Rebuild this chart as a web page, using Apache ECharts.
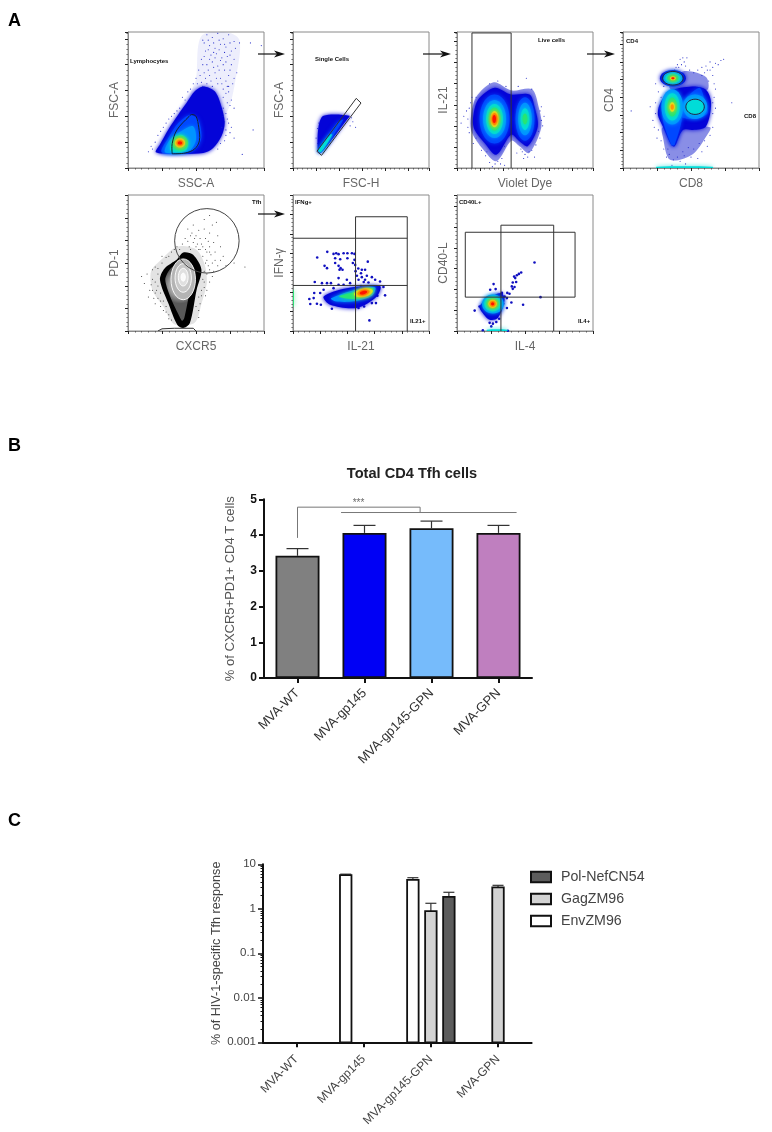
<!DOCTYPE html>
<html><head><meta charset="utf-8">
<style>html,body{margin:0;padding:0;background:#fff}#c{width:772px;height:1132px}</style>
<script src="https://cdn.jsdelivr.net/npm/echarts@6/dist/echarts.min.js"></script>
</head><body><div id="c"></div>
<script>
// ---------- Panel B values ----------
const groups = ['MVA-WT','MVA-gp145','MVA-gp145-GPN','MVA-GPN'];
const totalTfh = [3.42,4.06,4.19,4.06];
const totalTfhUpper = [3.62,4.27,4.39,4.27];
const totalColors = ['#808080','#0000f5','#76bbfb','#bf7fbf'];
const bracketA = [[0.5,3.92],[0.5,4.78],[2.33,4.78],[2.33,4.63]];
const bracketB = [[1.15,4.63],[3.77,4.63]];
const starMark = [[1.41,4.9]];
// ---------- Panel C values ----------
const polNef = [null,null,1.85,null];
const gagZM = [null,null,0.89,3.04];
const envZM = [null,5.7,4.45,null];
const polNefUpper = [null,null,2.35,null];
const gagZMUpper = [null,null,1.33,3.37];
const envZMUpper = [null,6.0,5.0,null];
const logTicks = {10:'10',1:'1',0.1:'0.1',0.01:'0.01',0.001:'0.001'};
// ---------- Flow panels: density zones (percent of each plot) ----------
const lymphZones = [
 ['p',0,[[45.5,51],[50,65],[54,97],[73.6,99.7],[82,94],[80,70],[72,40],[60,45]]],
 ['p',1,[[20.5,11.5],[23.5,17.2],[29.6,28.2],[36.9,39.2],[43,47.8],[49.1,56.4],[55.3,60],[63.8,56.4],[68.7,45.3],[71.1,33.1],[68.7,23.3],[62.6,14.7],[55.3,11],[33.3,10.3]]],
 ['p',2,[[24.7,11.5],[29.6,22],[37,33],[45.5,39],[51.6,35.5],[54,23],[50.4,14.7],[40.6,11]]],
 ['p',3,[[27,12],[31,21],[40.6,28],[48,30.6],[50,21],[45.5,13],[33,11]]],
 ['p',4,[[31,13],[33,21],[39.4,24.5],[44,19.6],[43,13.5],[36,11.5]]],
 ['e',5,38.2,18.4,6,5.4,0],['e',6,38.2,18.4,3.8,3.4,0],['e',7,38.2,18.4,2.6,2.1,0],['e',8,38.2,18.4,1.6,1.2,0],
 ['gs',[[32.5,10.5],[32.5,18],[36,28],[45,38],[47,39.3],[50,38],[52,30],[52.5,20],[49,14],[42,11],[32.5,10.5]]]
];
const lymphDots = [[55,94],[58,98],[62,96],[66,99],[70,95],[74,98],[78,93],[82,92],[60,90],[64,88],[68,91],[72,89],[76,86],[57,86],[61,83],[65,84],[69,81],[73,82],[78,80],[54,80],[58,76],[62,78],[66,75],[70,76],[75,72],[80,70],[52,72],[56,70],[60,68],[64,70],[68,66],[72,64],[77,62],[50,66],[54,63],[74,56],[76,50],[78,44],[72,40],[74,33],[76,30],[78,22],[72,24],[68,18],[44,56],[42,50],[38,44],[34,40],[30,36],[26,30],[22,24],[18,14],[15,12],[84,10],[92,28],[90,92],[98,90],[74,60],[70,52],[70,38],
 [56,92],[59,94],[63,92],[67,94],[71,91],[75,92],[79,88],[59,87],[63,85],[67,87],[71,85],[75,83],[56,82],[60,80],[64,81],[68,79],[72,78],[76,76],[55,76],[59,72],[63,74],[67,72],[71,72],[74,68],[78,66],[53,68],[57,66],[61,64],[65,66],[69,62],[73,60],[51,62],[55,60],[58,62],[62,60],[66,62],[70,58],[72,55],[75,46],[73,48],[70,44],[73,36],[75,26],[71,20],[66,14],[40,52],[46,58],[48,62],[36,42],[32,38],[28,33],[24,27],[20,19],[17,16],[69,30],[72,28],[71,34]];
const singleZones = [
 ['p',1,[[22.5,38.5],[41.6,38.5],[39.6,35.5],[20.5,11],[18.3,13],[18.8,30.6]]],
 ['p',2,[[18.6,13],[32.3,33],[37,35.5],[20.5,11.5]]],
 ['p',4,[[18.6,13],[27.4,24.5],[28.8,24.5],[20.5,11.5]]],
 ['g',[[46.5,51.2],[50,47.8],[21,9.3],[17.6,12.3],[46.5,51.2]]]
];
const singleDots = [[19,33],[18,29],[43,37],[44,34],[42,31],[17,22],[18,18],[46,30]];
const liveZones = [
 ['p',16,[[10,35],[14,52],[27,63],[40,57],[55,58],[60,45],[62,30],[53,11],[46,16],[40,20],[29,5],[19,14],[11,26]]],
 ['p',1,[[11.7,35.5],[15.4,50],[27.7,59],[39.8,54],[53.3,54],[57,45],[59.4,30.6],[52,16],[46,19.6],[39.8,24.5],[28.9,9.8],[20.3,18.4],[13,28]]],
 ['e',2,27.6,36,11,18,0],['e',3,27.6,36,8.5,14,0],['e',4,27.6,36,6.2,11,0],['e',5,27.6,36,4.4,8.5,0],['e',6,27.6,36,3,6,0],['e',7,27.6,36,2,4.5,0],['e',8,27.4,36,1.3,3,0],
 ['e',2,50,36,7,16,0],['e',3,50,36,5,12,0],['e',4,50,36,3.2,8,0],['e',5,50,36,1.8,4,0],
 ['g',[[11,0],[11,99.3],[39.8,99.3],[39.8,0]]]
];
const liveDots = [[5,38],[3,33],[8,30],[7,42],[9,26],[10,48],[62,35],[61,42],[60,27],[61,22],[53,12],[50,10],[30,5],[28,3],[26,1],[35,2],[51,66],[57,8],[14,22],[12,18],[22,12],[35,16],[47,14],[45,60],[55,58],[49,7],[62,45],[14,52],[24,4],[32,3],[33,7],[21,9],[18,13],[8,36],[9,44],[11,52],[64,38],[63,31],[58,17],[55,13],[44,11],[48,12],[52,8],[30,64],[24,62],[36,60]];
const subsetZones = [
 ['p',16,[[29.3,30],[64,30],[61,23],[51,10],[34.6,6],[29.3,23]]],
 ['p',16,[[44,71],[61,67],[62,57.6],[39,56],[34,60]]],
 ['p',1,[[26.9,46.5],[34,56.4],[51.3,60],[61,57.6],[64.8,47.8],[61,30.6],[51.3,28],[44,28],[38,16],[35.5,17],[29.3,30.6],[25.7,39]]],
 ['p',2,[[29.3,40],[43,40],[38,17],[35.5,17]]],
 ['p',2,[[41,45],[56,59],[60,50],[62,40],[52,36],[42,38]]],
 ['e',1,36.7,66,9.5,6,0],
 ['e',3,36.2,44.9,8,13,0],['e',4,36.2,44.9,5.5,10,0],['e',5,36.2,44.9,3.5,7,0],['e',6,36.2,44.9,2,3.5,0],['e',7,36.2,44.9,1.2,2,0],
 ['e',3,53,45,9,9,0],['e',4,53,45,6.5,5.5,0],
 ['eg',53,45,6.8,5.6],
 ['e',3,36.7,66,7,5,0],['e',4,36.7,66,5.5,3.6,0],['e',5,36.7,66,4,2.5,0],['e',6,36.7,66,2.2,1.5,0],['e',8,36.7,66,1.2,.7,0],
 ['eg',36.7,66,7.6,5],
 ['p',4,[[24.5,0],[66,0],[66,1],[24.5,1]]]
];
const subsetDots = [[38,72],[40,76],[42,80],[44,81],[47,81],[45,78],[41,74],[60,70],[62,72],[66,74],[70,76],[72,79],[74,80],[58,68],[64,78],[68,77],[24,48],[20,45],[22,35],[26,28],[28,20],[34,10],[37,6],[40,8],[44,12],[48,15],[52,14],[56,18],[60,20],[66,30],[66,40],[68,44],[80,48],[6,42],[24,62],[28,66],[36,2],[46,3],[67,62],[63,64],[33,14],[55,7],[39,74],[43,76],[46,75],[49,72],[52,70],[55,72],[58,74],[61,75],[64,72],[66,68],[68,58],[67,52],[66,48],[24,40],[23,30],[25,22],[30,14],[32,8],[42,5],[45,9],[50,8],[58,12],[62,16],[64,24],[30,60],[26,56],[28,52]];
const pdZones = [
 ['p',10,[[36,62],[50,60],[56,50],[58,36],[54,20],[49,6],[34,5],[26,18],[18,30],[17,44],[25,53]]],
 ['p',9,[[40.6,57.7],[47.9,56],[54,45],[50.4,30],[45.5,5.9],[40.6,2.2],[36.2,4.6],[29.6,20.5],[23.5,37.7],[26.9,46],[35.7,52.3]]],
 ['pr',[[39.4,51.8],[45,51.3],[49.4,43.8],[45.7,30.3],[41.4,9.5],[39.8,7.5],[37.2,12],[31,25.4],[27.4,37.7],[30.6,45]]],
 ['es',12,40.6,38,9,15],['es',13,40.6,39,6,10.5],['es',14,40.6,39.6,3.6,6.5],['es',15,40.6,39.6,1.6,3],
 ['g',[[22,0],[25,1.6],[34,2],[48,2],[50,0]]],
 ['c',58,66.3,23.7]
];
const pdDots = [[52,60],[55,62],[58,58],[48,65],[50,70],[60,72],[62,78],[56,75],[65,80],[66,70],[63,65],[60,62],[68,62],[45,62],[42,68],[47,72],[53,68],[57,68],[64,58],[70,55],[58,52],[62,50],[55,55],[72,48],[60,45],[66,48],[58,42],[62,40],[55,38],[56,32],[60,36],[52,25],[54,30],[50,18],[52,15],[34,60],[30,55],[36,62],[25,50],[20,47],[14,42],[10,40],[18,38],[12,35],[16,30],[20,28],[22,33],[19,24],[24,22],[26,15],[30,12],[32,8],[28,18],[15,25],[22,42],[18,45],[25,55],[86,47],[78,50],[56,82],[60,85],[52,10],[44,75],[48,78],[52,74],[54,64],[59,66],[61,56],[64,52],[68,52],[50,62],[46,60],[24,28],[17,34],[20,20],[56,44],[57,26],[44,66],[49,68],[46,70],[51,64],[53,60],[57,60],[60,58],[57,50],[59,48],[63,44],[56,36],[58,30],[54,26],[53,20],[20,36],[22,24],[21,30],[18,30],[24,18],[26,22],[28,14],[30,9],[22,46],[28,54],[32,58],[38,60],[40,64]];
const ifnZones = [
 ['p',1,[[22.5,25.4],[39.6,31.5],[64,33],[61.6,25.4],[47,17],[27.4,19.3]]],
 ['p',3,[[28,24],[47,30.5],[60.5,32],[58,26],[44.5,21.8],[31,21.8]]],
 ['p',5,[[33.9,25.4],[47,29],[59,31.5],[56.7,26.6],[45.7,23.5]]],
 ['e',6,51.8,28.2,7,3,12],['e',7,51.8,28.2,4.6,2,12],['e',8,51.8,28.2,2.8,1.2,12],
 ['p',5,[[0,18],[.6,18],[.6,30],[0,30]]],
 ['g',[[46,0],[46,84],[84,84],[84,0]]],
 ['g',[[0,68.2],[84,68.2]]],
 ['g',[[0,33.5],[84,33.5]]]
];
const ifnDots = [[25.2,58.2],[29.8,56.7],[31.8,57.2],[33.5,56.5],[37.2,57.2],[40,57.2],[43.3,57.2],[45.2,56.7],[17.8,54],[31,53.5],[34.7,52.8],[40,53.5],[45.2,52.3],[45.7,48.6],[55,51],[23.2,47.9],[25,46.2],[33.5,47.9],[35,46.2],[36.4,45],[34.2,45],[50.6,45],[53,45],[50,42.5],[47,40.6],[54.3,40.6],[50.6,39.6],[58,39.6],[39.6,37.7],[33.5,38.9],[48.2,37.7],[53,37.7],[60.4,37.7],[64,36.4],[16,36],[21.3,35.2],[25,35.2],[27.9,35.2],[33.5,34],[37.2,34],[42,35.2],[55.5,35.7],[66.5,32.3],[67.7,26.2],[62,26],[61,20.5],[58,20.5],[56.2,7.8],[12,23.5],[15.2,24.2],[12.7,19.8],[17.6,20],[20.5,19.3],[15.6,27.9],[20,27.9],[28.6,16.4],[34.7,18.6],[39.6,18.8],[48.2,16.9],[52.3,18],[43.3,19.3],[22.5,30.3],[29.8,31.5],[59,31.5],[46,44],[48,46],[31,50],[44,50],[50,33],[52,36]];
const cd40Zones = [
 ['p',1,[[16.6,18],[22.7,24],[32.5,28],[35,23],[30,9.5],[24,8.3],[18,14.4]]],
 ['e',3,26.4,19.8,8,7,0],['e',4,26.2,20,6.2,5.6,0],['e',5,26.2,20,4.6,4,0],['e',6,26.2,20,3.2,3,0],['e',7,26.2,20,2.2,2.1,0],['e',8,26.2,20,1.2,1.2,0],
 ['p',4,[[22,0],[37,0],[37,1],[22,1]]],
 ['g',[[6.1,24.9],[6.1,72.6],[86.8,72.6],[86.8,24.9],[6.1,24.9]]],
 ['g',[[32.3,0],[32.3,77.8],[71.1,77.8],[71.1,0]]]
];
const cd40Dots = [[57,50.4],[47.2,43],[45.5,42],[42.8,38.9],[41,35.7],[40.3,32.8],[42.3,32.3],[61.4,24.9],[48.6,19.3],[26.9,34.5],[24.4,30.3],[28.4,30.8],[38.6,27.4],[36.7,24.2],[40,21],[35,25.4],[13,15],[16.6,18],[36.7,16.9],[28.9,6.6],[25.2,3.4],[19,.5],[26.4,5.4],[37.4,.2],[42,40],[43.5,36],[44,41],[41,31],[33,28],[37,28],[34,20],[31,9],[24,6]];
const flowTexts = [['Lymphocytes',130,62],['Single Cells',315,60],['Live cells',538,41],['CD4',626,42],['CD8',744,117],['Tfh',252,203],['IFNg+',295,203],['IL21+',410,322],['CD40L+',459,203],['IL4+',578,322]];
const arrowRows = [[258,285,54],[423,451,54],[587,615,54],[258,285,214]];
const panelLetters = [['A',8,20],['B',8,445],['C',8,820]];

const sansFont = '"Liberation Sans",Arial,sans-serif';
const zoneFill = ['rgba(30,40,215,.08)','#0404d8','#0048ff','#0094ff','#00dcd8','#26e474','#dcea20','#ff9400','#ff1400','#000','rgba(40,40,40,.13)','#a8a8a8','#b4b4b4','#c8c8c8','#e0e0e0','#fafafa','rgba(20,30,205,.5)'];
const flowPanels = [
 {l:128,t:32,xn:'SSC-A',yn:'FSC-A',z:lymphZones,d:lymphDots,dc:'#2028c8',xi:25,yi:19,r:1.1},
 {l:293,t:32,xn:'FSC-H',yn:'FSC-A',z:singleZones,d:singleDots,dc:'#2028c8',xi:17,yi:19,r:1.1},
 {l:457,t:32,xn:'Violet Dye',yn:'IL-21',z:liveZones,d:liveDots,dc:'#2028c8',xi:17,yi:15.5,r:1.1},
 {l:623,t:32,xn:'CD8',yn:'CD4',z:subsetZones,d:subsetDots,dc:'#2028c8',xi:25,yi:13,r:1.1},
 {l:128,t:195,xn:'CXCR5',yn:'PD-1',z:pdZones,d:pdDots,dc:'#222',xi:25,yi:16.6,r:1},
 {l:293,t:195,xn:'IL-21',yn:'IFN-γ',z:ifnZones,d:ifnDots,dc:'#1010c0',xi:20,yi:14.3,r:2.6},
 {l:457,t:195,xn:'IL-4',yn:'CD40-L',z:cd40Zones,d:cd40Dots,dc:'#1010c0',xi:25,yi:15.3,r:2.6}
];

const grid=[],xAxis=[],yAxis=[],series=[];
function addAxes(g,x,y){const i=grid.length;grid.push(g);x.forEach(a=>xAxis.push(Object.assign({gridIndex:i},a)));y.forEach(a=>yAxis.push(Object.assign({gridIndex:i},a)));return i;}
function zoneItem(layer,api){
 const kind=layer[0];
 const pts=a=>a.map(p=>api.coord(p));
 const sz=(a,b)=>api.size([a,b]);
 if(kind==='p'){const lv=layer[1];const blur=lv>=1&&lv<=8;
  return {type:'polygon',shape:{points:pts(layer[2]),smooth:0.3},style:{fill:zoneFill[lv],shadowBlur:blur?4:0,shadowColor:zoneFill[lv]}};}
 if(kind==='pr'){return {type:'polygon',shape:{points:pts(layer[1]),smooth:0.25},style:{fill:new echarts.graphic.RadialGradient(.5,.42,.6,[{offset:0,color:'#c8c8c8'},{offset:.6,color:'#a0a0a0'},{offset:1,color:'#585858'}])}};}
 if(kind==='e'||kind==='es'){const c=api.coord([layer[2],layer[3]]);const s=sz(layer[4],layer[5]);const lv=layer[1];
  return {type:'ellipse',shape:{cx:c[0],cy:c[1],rx:s[0],ry:s[1]},originX:c[0],originY:c[1],rotation:(layer[6]||0)*Math.PI/180,style:{fill:zoneFill[lv],stroke:kind==='es'?'#fff':null,lineWidth:.9,shadowBlur:kind==='e'?4:0,shadowColor:zoneFill[lv]}};}
 if(kind==='eg'){const c=api.coord([layer[1],layer[2]]);const s=sz(layer[3],layer[4]);
  return {type:'ellipse',shape:{cx:c[0],cy:c[1],rx:s[0],ry:s[1]},style:{fill:null,stroke:'#224',lineWidth:1}};}
 if(kind==='g'){return {type:'polyline',shape:{points:pts(layer[1])},style:{fill:null,stroke:'#333',lineWidth:1}};}
 if(kind==='gs'){return {type:'polyline',shape:{points:pts(layer[1]),smooth:.35},style:{fill:null,stroke:'#123',lineWidth:1}};}
 if(kind==='c'){const c=api.coord([layer[1],layer[2]]);const s=sz(layer[3],0);
  return {type:'circle',shape:{cx:c[0],cy:c[1],r:s[0]},style:{fill:null,stroke:'#444',lineWidth:1}};}
}
flowPanels.forEach(p=>{
 const tick={show:true,length:3,lineStyle:{color:'#222',width:1}};
 const minor=n=>({show:true,splitNumber:n,length:1.6,lineStyle:{color:'#444',width:.7}});
 const line={show:true,lineStyle:{color:'#8a8a8a',width:1}};
 const nameStyle={color:'#666',fontFamily:sansFont,fontSize:12};
 addAxes({left:p.l,top:p.t,width:136,height:136,show:true,borderColor:'#8a8a8a',borderWidth:1,backgroundColor:'#fff'},
  [{type:'value',min:0,max:100,interval:p.xi,axisLine:line,axisTick:tick,minorTick:minor(5),axisLabel:{show:false},splitLine:{show:false},name:p.xn,nameLocation:'middle',nameGap:10,nameTextStyle:nameStyle}],
  [{type:'value',min:0,max:100,interval:p.yi,axisLine:line,axisTick:tick,minorTick:minor(5),axisLabel:{show:false},splitLine:{show:false},name:p.yn,nameLocation:'middle',nameGap:7,nameTextStyle:nameStyle}]);
 series.push({type:'scatter',xAxisIndex:xAxis.length-1,yAxisIndex:yAxis.length-1,data:p.d,symbolSize:p.r,silent:true,itemStyle:{color:p.dc,opacity:1},z:2});
 series.push({type:'custom',xAxisIndex:xAxis.length-1,yAxisIndex:yAxis.length-1,clip:true,silent:true,z:p.r>2?3:1,
  data:p.z.map((_,k)=>[k,0]),renderItem:(params,api)=>zoneItem(p.z[params.dataIndex],api)});
});

// Panel B
const blackAxis={show:true,lineStyle:{color:'#111',width:2}};
const blackTick={show:true,length:5,lineStyle:{color:'#111',width:2},alignWithLabel:true};
addAxes({left:264,top:499.3,width:268,height:178.7},
 [{type:'category',data:groups,axisLine:blackAxis,axisTick:blackTick,axisLabel:{rotate:45,interval:0,margin:13,color:'#333',fontFamily:sansFont,fontSize:13}},
  {type:'value',min:0,max:4,show:false}],
 [{type:'value',min:0,max:5,interval:1,axisLine:blackAxis,axisTick:{show:true,length:5,lineStyle:{color:'#111',width:2}},splitLine:{show:false},
   axisLabel:{color:'#111',fontWeight:'bold',fontFamily:sansFont,fontSize:12,margin:7},name:'% of CXCR5+PD1+ CD4 T cells',nameLocation:'middle',nameGap:27,nameTextStyle:{color:'#555',fontFamily:sansFont,fontSize:13}}]);
const bx=xAxis.length-2,bxv=xAxis.length-1,by=yAxis.length-1;
function errorItem(capHalf,step){return (params,api)=>{
 const cat=api.value(0),slot=api.value(1);const base=api.coord([cat,api.value(2)]);const top=api.coord([cat,api.value(3)]);
 const x=base[0]+slot*step;
 const st={stroke:'#333',lineWidth:1.2};
 return {type:'group',children:[{type:'line',shape:{x1:x,y1:base[1],x2:x,y2:top[1]},style:st},{type:'line',shape:{x1:x-capHalf,y1:top[1],x2:x+capHalf,y2:top[1]},style:st}]};
};}
series.push({type:'bar',xAxisIndex:bx,yAxisIndex:by,barWidth:44,data:totalTfh.map((v,i)=>({value:v,itemStyle:{color:totalColors[i]}})),itemStyle:{borderColor:'#111',borderWidth:1.8},silent:true,z:3});
series.push({type:'custom',xAxisIndex:bx,yAxisIndex:by,silent:true,z:2,data:totalTfh.map((v,i)=>[i,0,v,totalTfhUpper[i]]),encode:{x:0,y:3},renderItem:errorItem(11,0)});
const bracketStyle={color:'#777',width:1};
[bracketA,bracketB].forEach(d=>series.push({type:'line',xAxisIndex:bxv,yAxisIndex:by,data:d,symbol:'none',lineStyle:bracketStyle,silent:true,z:4}));
series.push({type:'scatter',xAxisIndex:bxv,yAxisIndex:by,data:starMark,symbolSize:0,silent:true,label:{show:true,formatter:'***',position:'inside',color:'#444',fontFamily:sansFont,fontSize:10}});

// Panel C
addAxes({left:263,top:864.3,width:268.6,height:178},
 [{type:'category',data:groups,axisLine:blackAxis,axisTick:blackTick,axisLabel:{rotate:45,interval:0,margin:15,color:'#444',fontFamily:sansFont,fontSize:12}}],
 [{type:'log',logBase:10,min:0.001,max:10,axisLine:{show:true,onZero:false,lineStyle:{color:'#111',width:2}},axisTick:{show:true,length:5,lineStyle:{color:'#111',width:1.5}},minorTick:{show:true,splitNumber:9,length:2.5,lineStyle:{color:'#111',width:1}},splitLine:{show:false},
   axisLabel:{color:'#444',fontFamily:sansFont,fontSize:11.5,margin:7,formatter:v=>logTicks[+(+v).toPrecision(3)]||''},name:'% of HIV-1-specific Tfh response',nameLocation:'middle',nameGap:36,nameTextStyle:{color:'#444',fontFamily:sansFont,fontSize:12.6}}]);
const cx=xAxis.length-1,cy=yAxis.length-1;
const floorValue=0.001,slotStep=18,logBarHalf=5.75;
function logBarItem(fill){return (params,api)=>{
 const cat=api.value(0),slot=api.value(1);
 const top=api.coord([cat,api.value(2)]);const bot=api.coord([cat,floorValue]);
 const x=top[0]+slot*slotStep;
 return {type:'rect',shape:{x:x-logBarHalf,y:top[1],width:logBarHalf*2,height:bot[1]-top[1]},style:{fill,stroke:'#111',lineWidth:1.8}};
};}
const cRows=[['EnvZM96',envZM,envZMUpper,-1,'#ffffff'],['GagZM96',gagZM,gagZMUpper,0,'#d3d3d3'],['Pol-NefCN54',polNef,polNefUpper,1,'#5c5c5c']];
const cErr=[];
cRows.forEach(([name,v,u,s,fill])=>{
 const rows=[];
 v.forEach((val,i)=>{if(val!==null){rows.push([i,s,val]);cErr.push([i,s,val,u[i]]);}});
 series.push({type:'custom',name,xAxisIndex:cx,yAxisIndex:cy,silent:true,z:3,data:rows,encode:{x:0,y:2},itemStyle:{color:fill,borderColor:'#111',borderWidth:1.6},renderItem:logBarItem(fill)});
});
series.push({type:'custom',xAxisIndex:cx,yAxisIndex:cy,silent:true,z:2,data:cErr,encode:{x:0,y:3},renderItem:errorItem(5.5,slotStep)});

// Page furniture
const graphic=[];
panelLetters.forEach(([t,x,y])=>graphic.push({type:'text',left:x,top:y-8,style:{text:t,fill:'#000',font:'bold 18px '+sansFont}}));
flowTexts.forEach(([t,x,y])=>graphic.push({type:'text',left:x,top:y-3.5,z:10,style:{text:t,fill:'#111',font:'bold 6px '+sansFont}}));
arrowRows.forEach(([a,b,y])=>{
 graphic.push({type:'line',shape:{x1:a,y1:y,x2:b-6,y2:y},style:{stroke:'#111',lineWidth:1.2},z:10});
 graphic.push({type:'polygon',shape:{points:[[b,y],[b-11,y-3.5],[b-8,y],[b-11,y+3.5]]},style:{fill:'#111'},z:10});
});
const chart=echarts.init(document.getElementById('c'),null,{renderer:'canvas',width:772,height:1132});
chart.setOption({animation:false,backgroundColor:'#fff',
 title:{text:'Total CD4 Tfh cells',left:407,top:461,textAlign:'center',textStyle:{fontFamily:sansFont,fontSize:14.6,fontWeight:'bold',color:'#222'}},
 legend:{orient:'vertical',left:525,top:865,icon:'rect',itemWidth:20,itemHeight:10.5,itemGap:8,data:['Pol-NefCN54','GagZM96','EnvZM96'],textStyle:{fontFamily:sansFont,fontSize:14.2,color:'#444',padding:[0,0,0,5]}},
 grid,xAxis,yAxis,series,graphic});
</script></body></html>
